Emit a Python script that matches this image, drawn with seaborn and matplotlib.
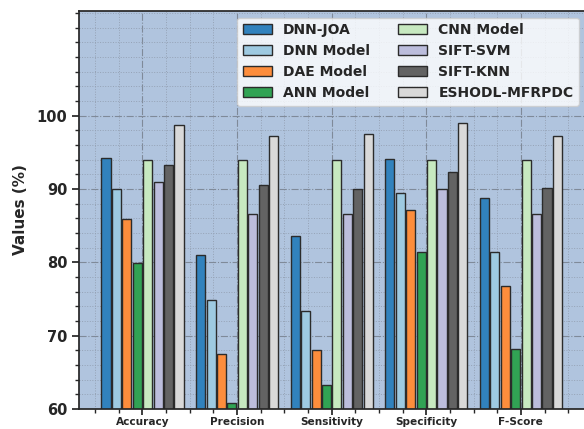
import matplotlib
matplotlib.use("Agg")
import matplotlib.pyplot as plt
import pandas as pd
import seaborn as sns
from matplotlib.ticker import MultipleLocator


METRICS = ["Accuracy", "Precision", "Sensitivity", "Specificity", "F-Score"]
MODELS = ["DNN-JOA", "DNN Model", "DAE Model", "ANN Model",
          "CNN Model", "SIFT-SVM", "SIFT-KNN", "ESHODL-MFRPDC"]

dnn_joa = [94.2, 81.0, 83.6, 94.1, 88.7]
dnn_model = [90.0, 74.8, 73.4, 89.4, 81.4]
dae_model = [85.9, 67.5, 68.0, 87.1, 76.8]
ann_model = [79.9, 60.8, 63.2, 81.4, 68.2]
cnn_model = [93.9, 93.9, 93.9, 93.9, 93.9]
sift_svm = [91.0, 86.6, 86.6, 90.0, 86.6]
sift_knn = [93.3, 90.5, 90.0, 92.3, 90.1]
eshodl = [98.7, 97.2, 97.5, 99.05, 97.2]

COLORS = ["#3182bd", "#9ecae1", "#fd8d3c", "#31a354",
          "#c7e9c0", "#bcbddc", "#636363", "#d9d9d9"]


def build_frame():
    series = [dnn_joa, dnn_model, dae_model, ann_model,
              cnn_model, sift_svm, sift_knn, eshodl]
    rows = []
    for model, values in zip(MODELS, series):
        for metric, v in zip(METRICS, values):
            rows.append({"metric": metric, "model": model, "value": v})
    return pd.DataFrame(rows)


def main():
    df = build_frame()
    sns.set_theme(style="ticks")
    plt.rcParams["font.family"] = ["DejaVu Sans"]

    fig = plt.figure(figsize=(5.84, 4.29), dpi=100)
    # right edge sits just past the picture, the original was cropped there
    ax = fig.add_axes([0.1353, 0.047, 0.868, 0.928])
    ax.set_facecolor("#b0c4de")

    sns.barplot(
        data=df, x="metric", y="value", hue="model",
        order=METRICS, hue_order=MODELS, palette=COLORS, saturation=1,
        width=0.88, gap=0.12, edgecolor="#2b2b2b", linewidth=1.0,
        ax=ax,
    )

    ax.set_xlim(-0.671, 4.687)
    ax.set_ylim(60, 114.3)
    ax.set_yticks([60, 70, 80, 90, 100])
    ax.yaxis.set_minor_locator(MultipleLocator(2))
    ax.xaxis.set_minor_locator(MultipleLocator(0.25))
    ax.set_axisbelow(True)
    ax.grid(which="major", linestyle="-.", color="#7f8a99", linewidth=0.8)
    ax.grid(which="minor", linestyle=":", color="#95a2b5", linewidth=0.7)

    ax.tick_params(axis="y", which="major", labelsize=10.5, length=5)
    ax.tick_params(axis="x", which="major", labelsize=7.6, length=4, pad=2)
    ax.tick_params(which="minor", length=3)
    for lab in ax.get_xticklabels() + ax.get_yticklabels():
        lab.set_fontweight("bold")

    ax.set_xlabel("")
    ax.set_ylabel("Values (%)", fontsize=11, fontweight="bold", labelpad=6)

    handles, labels = ax.get_legend_handles_labels()
    ax.legend(
        handles, labels, ncol=2, loc="upper right",
        prop={"weight": "bold", "size": 10},
        frameon=True, framealpha=0.8, facecolor="white", edgecolor="#cccccc",
        handlelength=2.1, handleheight=0.72, columnspacing=2.0,
        labelspacing=0.5,
    )

    fig.savefig("out.png", dpi=100)
    plt.close(fig)


if __name__ == "__main__":
    main()
